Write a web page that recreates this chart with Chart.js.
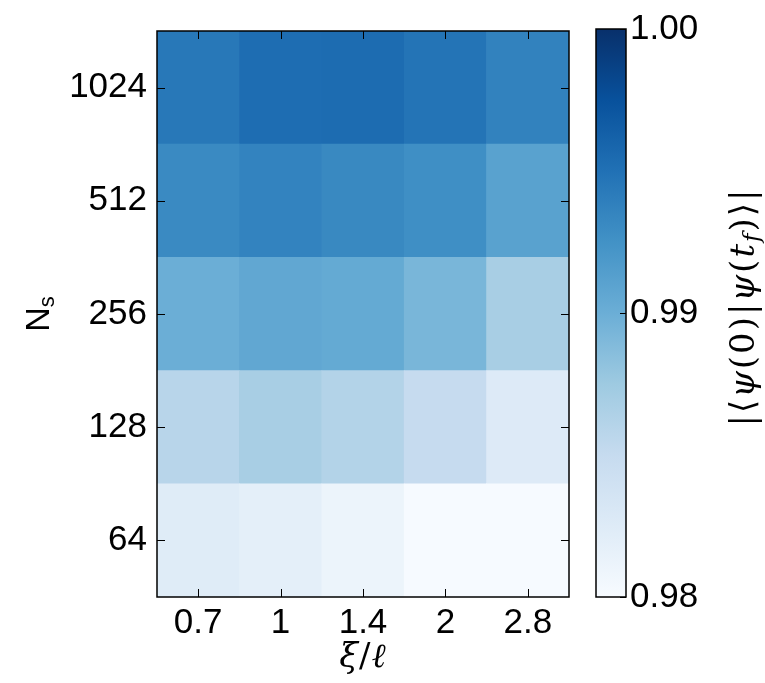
<!DOCTYPE html>
<html>
<head>
<meta charset="utf-8">
<script src="https://cdn.jsdelivr.net/npm/chart.js@4.4.0/dist/chart.umd.min.js"></script>
<style>
  html, body { margin: 0; padding: 0; background: #fff; }
  #wrap { position: relative; width: 765px; height: 683px; }
  #mainBox { position: absolute; left: 0; top: 0; width: 590px; height: 683px; }
  #barBox { position: absolute; left: 580px; top: 0; width: 185px; height: 683px; }
</style>
</head>
<body>
<div id="wrap">
  <div id="mainBox"><canvas id="heatmap"></canvas></div>
  <div id="barBox"><canvas id="colorbar"></canvas></div>
</div>
<script>
// xi / l categories (columns) and N_s rows (bottom to top)
const xiLabels = ['0.7', '1', '1.4', '2', '2.8'];
const nsLabels = ['64', '128', '256', '512', '1024'];

// fidelity |<psi(0)|psi(t_f)>| per row
const fid64   = [0.9824, 0.9819, 0.9811, 0.9801, 0.9801];
const fid128  = [0.9859, 0.9869, 0.9862, 0.9850, 0.9826];
const fid256  = [0.9900, 0.9906, 0.9904, 0.9893, 0.9869];
const fid512  = [0.9931, 0.9936, 0.9932, 0.9927, 0.9911];
const fid1024 = [0.9945, 0.9953, 0.9954, 0.9948, 0.9937];
const rows = [fid64, fid128, fid256, fid512, fid1024];

const cbMin = 0.98, cbMax = 1.00;
const cbTicks = [0.98, 0.99, 1.00];

// matplotlib "Blues"
const bluesStops = ['#f7fbff', '#deebf7', '#c6dbef', '#9ecae1', '#6baed6',
                    '#4292c6', '#2171b5', '#08519c', '#08306b'];

function hexToRgb(h) {
    return [parseInt(h.slice(1, 3), 16), parseInt(h.slice(3, 5), 16), parseInt(h.slice(5, 7), 16)];
}

function blues(v) {
    let t = (v - cbMin) / (cbMax - cbMin);
    t = Math.max(0, Math.min(1, t));
    const pos = t * (bluesStops.length - 1);
    const i = Math.min(Math.floor(pos), bluesStops.length - 2);
    const f = pos - i;
    const a = hexToRgb(bluesStops[i]), b = hexToRgb(bluesStops[i + 1]);
    const c = a.map((x, k) => Math.round(x + (b[k] - x) * f));
    return `rgb(${c[0]},${c[1]},${c[2]})`;
}

const FONT = "'Liberation Sans', 'DejaVu Sans', sans-serif";
const MATH = "'DejaVu Serif', serif";
const TICK_SIZE = 35;

// draws a list of text runs in a row, centered on (cx, cy), rotated by angle
function drawRuns(ctx, runs, cx, cy, angle, spacing) {
    spacing = spacing || 0;
    ctx.save();
    ctx.translate(cx, cy);
    ctx.rotate(angle);
    ctx.fillStyle = '#000';
    ctx.textBaseline = 'middle';
    ctx.textAlign = 'left';
    let total = 0;
    runs.forEach(r => { ctx.font = r.font; r.w = ctx.measureText(r.text).width + spacing * r.text.length; total += r.w; });
    let x = -total / 2;
    runs.forEach(r => {
        ctx.font = r.font;
        let cx2 = x;
        for (const ch of r.text) {
            ctx.fillText(ch, cx2, r.dy || 0);
            cx2 += ctx.measureText(ch).width + spacing;
        }
        x += r.w;
    });
    ctx.restore();
}

// inward ticks on all four sides + frame, plus axis titles
const heatmapDecor = {
    id: 'heatmapDecor',
    afterDraw(chart) {
        const ctx = chart.ctx;
        const a = chart.chartArea;
        const xs = chart.scales.x, ys = chart.scales.y;
        ctx.save();
        ctx.strokeStyle = '#000';
        ctx.lineWidth = 1;
        ctx.beginPath();
        xs.ticks.forEach((t, i) => {
            const px = Math.round(xs.getPixelForTick(i)) + 0.5;
            ctx.moveTo(px, a.bottom); ctx.lineTo(px, a.bottom - 8);
            ctx.moveTo(px, a.top); ctx.lineTo(px, a.top + 8);
        });
        ys.ticks.forEach((t, i) => {
            const py = Math.round(ys.getPixelForTick(i)) + 0.5;
            ctx.moveTo(a.left, py); ctx.lineTo(a.left + 8, py);
            ctx.moveTo(a.right, py); ctx.lineTo(a.right - 8, py);
        });
        ctx.stroke();
        ctx.lineWidth = 1.5;
        ctx.strokeRect(a.left, a.top, a.right - a.left, a.bottom - a.top);
        ctx.restore();

        // x title: xi / l
        drawRuns(ctx, [
            { text: 'ξ', font: `italic 34px ${MATH}` },
            { text: '/', font: `34px ${MATH}` },
            { text: 'ℓ', font: `italic 34px ${MATH}` }
        ], (a.left + a.right) / 2, 658, 0, 1);

        // y title: N_s
        drawRuns(ctx, [
            { text: 'N', font: `34px ${FONT}` },
            { text: 's', font: `22px ${FONT}`, dy: 8 }
        ], 40, (a.top + a.bottom) / 2, -Math.PI / 2);
    }
};

new Chart(document.getElementById('heatmap'), {
    type: 'bar',
    data: {
        labels: xiLabels,
        datasets: rows.map((vals, r) => ({
            label: 'Ns = ' + nsLabels[r],
            data: vals.map(() => [r - 0.5, r + 0.5]),
            backgroundColor: vals.map(blues),
            borderWidth: 0,
            grouped: false,
            barPercentage: 1,
            categoryPercentage: 1
        }))
    },
    options: {
        responsive: true,
        maintainAspectRatio: false,
        animation: false,
        layout: { padding: { top: 29, right: 21, left: 0, bottom: 0 } },
        plugins: { legend: { display: false }, tooltip: { enabled: false } },
        scales: {
            x: {
                grid: { display: false, drawTicks: false },
                border: { display: false },
                ticks: { color: '#000', font: { family: FONT, size: TICK_SIZE }, padding: 5, maxRotation: 0 },
                afterFit(scale) { scale.height = 86; }
            },
            y: {
                min: -0.5,
                max: 4.5,
                grid: { display: false, drawTicks: false },
                border: { display: false },
                afterBuildTicks(scale) { scale.ticks = nsLabels.map((_, i) => ({ value: i })); },
                ticks: {
                    color: '#000',
                    font: { family: FONT, size: TICK_SIZE },
                    padding: 10,
                    callback: v => nsLabels[v]
                },
                afterFit(scale) { scale.width = 157; }
            }
        }
    },
    plugins: [heatmapDecor]
});

// colorbar
const colorbarDecor = {
    id: 'colorbarDecor',
    afterDraw(chart) {
        const ctx = chart.ctx;
        const a = chart.chartArea;
        const ys = chart.scales.y;
        ctx.save();
        ctx.strokeStyle = '#000';
        ctx.lineWidth = 1;
        ctx.beginPath();
        cbTicks.forEach(v => {
            const py = Math.round(ys.getPixelForValue(v)) + 0.5;
            ctx.moveTo(a.right, py); ctx.lineTo(a.right - 6, py);
        });
        ctx.stroke();
        ctx.lineWidth = 1.5;
        ctx.strokeRect(a.left, a.top, a.right - a.left, a.bottom - a.top);
        ctx.restore();

        // |<psi(0)|psi(t_f)>|
        drawRuns(ctx, [
            { text: '|⟨', font: `34px ${MATH}` },
            { text: 'ψ', font: `italic 34px ${MATH}` },
            { text: '(0)|', font: `34px ${MATH}` },
            { text: 'ψ', font: `italic 34px ${MATH}` },
            { text: '(', font: `34px ${MATH}` },
            { text: 't', font: `italic 34px ${MATH}` },
            { text: 'f', font: `italic 23px ${MATH}`, dy: 8 },
            { text: ')⟩|', font: `34px ${MATH}` }
        ], 165, (a.top + a.bottom) / 2 - 6, -Math.PI / 2, 2);
    }
};

new Chart(document.getElementById('colorbar'), {
    type: 'bar',
    data: {
        labels: ['cb'],
        datasets: [{
            data: [[cbMin, cbMax]],
            borderWidth: 0,
            barPercentage: 1,
            categoryPercentage: 1,
            backgroundColor(c) {
                const chart = c.chart;
                if (!chart.chartArea) return '#6baed6';
                const ys = chart.scales.y;
                const g = chart.ctx.createLinearGradient(0, ys.getPixelForValue(cbMin), 0, ys.getPixelForValue(cbMax));
                bluesStops.forEach((col, i) => g.addColorStop(i / (bluesStops.length - 1), col));
                return g;
            }
        }]
    },
    options: {
        responsive: true,
        maintainAspectRatio: false,
        animation: false,
        layout: { padding: { top: 29, right: 0, left: 16, bottom: 86 } },
        plugins: { legend: { display: false }, tooltip: { enabled: false } },
        scales: {
            x: { display: false },
            y: {
                position: 'right',
                min: cbMin,
                max: cbMax,
                grid: { display: false, drawTicks: false },
                border: { display: false },
                afterBuildTicks(scale) { scale.ticks = cbTicks.map(v => ({ value: v })); },
                ticks: {
                    color: '#000',
                    font: { family: FONT, size: TICK_SIZE },
                    padding: 4,
                    callback: v => v.toFixed(2)
                },
                afterFit(scale) { scale.width = 139; }
            }
        }
    },
    plugins: [colorbarDecor]
});
</script>
</body>
</html>
